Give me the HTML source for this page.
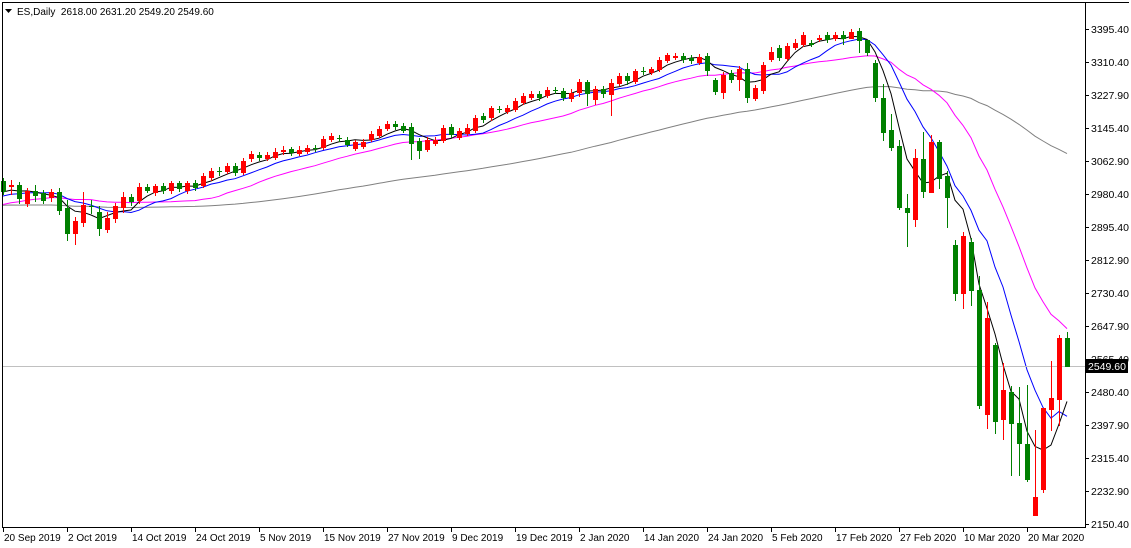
<!DOCTYPE html>
<html><head><meta charset="utf-8">
<style>
html,body{margin:0;padding:0;background:#fff;}
svg{display:block;font-family:"Liberation Sans",Tahoma,sans-serif;}
</style></head>
<body>
<svg id="c" width="1131" height="548" xmlns="http://www.w3.org/2000/svg" shape-rendering="crispEdges">
<rect x="0" y="0" width="1131" height="548" fill="#fff"/>
</svg>
<script>
(function(){
var svg=document.getElementById('c');
var NS='http://www.w3.org/2000/svg';
function el(t,a,txt){var e=document.createElementNS(NS,t);for(var k in a)e.setAttribute(k,a[k]);if(txt!==undefined)e.textContent=txt;svg.appendChild(e);return e;}
var B=[
[181,191],[186,185,180,194],[185,198,182,203],[203,191,188,206],[191,195,185,201],[193,200,190,203],[197,192,189,201],[192,210,188,214],
[208,233,200,240],[233,221,217,244],[222,205,192,226],[206,206,200,213],[212,228,206,235],[229,218,212,232],[218,206,203,222],[207,197,192,212],
[197,201,194,205],[200,187,183,203],[187,190,184,192],[192,186,184,195],[186,190,183,193],[190,183,181,193],[183,188,181,191],[190,183,181,193],
[183,187,180,190],[185,176,173,187],[177,171,168,180],[171,171,167,175],[171,166,163,173],[166,172,163,175],[172,161,158,174],[158,154,151,161],
[155,157,152,160],[158,155,152,160],[157,152,148,159],[151,150,146,154],[149,152,147,155],[153,150,146,155],[151,148,145,153],[148,148,145,151],
[147,139,136,149],[139,136,133,141],[138,138,135,141],[140,144,137,146],[148,142,140,150],[146,142,139,148],[139,134,131,141],[135,129,126,137],
[128,124,121,130],[124,126,121,129],[126,130,123,132],[127,143,123,159],[141,150,138,158],[149,140,137,151],[143,140,137,145],[140,128,125,142],
[127,134,124,137],[137,131,128,139],[133,128,124,135],[130,118,115,132],[116,119,113,122],[117,108,106,120],[109,109,106,112],[111,108,105,113],
[109,101,98,111],[102,96,93,104],[97,94,91,99],[94,97,91,100],[95,90,87,97],[90,90,87,93],[91,97,88,100],[98,93,89,101],
[92,82,79,96],[82,93,80,105],[99,89,86,104],[89,93,86,97],[94,83,79,115],[83,76,73,85],[76,80,73,84],[81,71,69,83],
[71,71,67,74],[72,69,67,74],[69,60,57,71],[60,55,53,62],[57,56,53,59],[56,59,53,62],[58,60,55,63],[62,57,54,64],
[56,70,53,75],[80,91,78,94],[92,75,72,98],[73,79,70,82],[79,69,66,90],[69,97,63,102],[98,88,85,100],[90,65,62,93],
[59,52,47,61],[48,57,45,60],[58,46,43,60],[47,43,39,49],[44,35,32,46],[43,44,40,46],[39,38,35,41],[35,39,32,42],
[38,35,32,40],[35,38,31,44],
[38,32,29,38],[31,40,28,52],[40,52,40,55],[63,97,60,101],[98,132,84,140],[130,147,114,150],[146,207,140,209],[208,212,194,246],
[219,158,149,226],[159,191,132,197],[192,142,135,192],[142,178,140,188],[176,197,171,227],[245,293,240,300],[293,236,232,308],[242,290,238,305],
[290,405,276,408],[414,318,302,428],[345,421,343,433],[419,390,363,439],[392,423,386,475],[423,443,387,475],[444,479,385,481],[515,497,430,515],
[489,408,408,492],[409,398,361,430],[399,338,335,425],[338,366,332,366]
];
var N=B.length, x0=1067-(N-1)*8;
var pre=[];
for(var i=-100;i<0;i++){var v;
 if(i<-40)v=196; else if(i<-25)v=196+(i+40)/15*35; else v=231-(i+25)/25*43;
 pre.push(v);}
var closes=pre.concat(B.map(function(b){return b[1];}));
function ma(p,col){var pts=[];for(var j=0;j<N;j++){var k=j+100,s=0;for(var m=0;m<p;m++)s+=closes[k-m];pts.push((x0+j*8)+','+(s/p).toFixed(1));}
 el('polyline',{points:pts.join(' '),fill:'none',stroke:col,'stroke-width':1,'shape-rendering':'auto'});}
ma(65,'#808080');ma(20,'#ff00ff');ma(10,'#0000ff');ma(5,'#000000');
el('line',{x1:3,y1:366.5,x2:1085,y2:366.5,stroke:'#c0c0c0','stroke-width':1});
for(var j=0;j<N;j++){var b=B[j],cx=x0+j*8,o=b[0],c=b[1];
 var tp=Math.min(o,c),bt=Math.max(o,c);
 var hi=b[2]!==undefined?b[2]:tp-3,lo=b[3]!==undefined?b[3]:bt+3;
 var col=(c<o)?'#ff0000':'#008000';
 var wt=Math.min(hi,tp),wb=Math.max(lo,bt);
 el('rect',{x:cx,y:wt,width:1,height:wb-wt+1,fill:col});
 el('rect',{x:cx-2,y:tp,width:5,height:Math.max(1,bt-tp+1),fill:col});
}
el('rect',{x:2,y:2,width:1,height:526,fill:'#000'});
el('rect',{x:2,y:2,width:1127,height:1,fill:'#000'});
el('rect',{x:1085,y:2,width:1,height:526,fill:'#000'});
el('rect',{x:2,y:527,width:1084,height:1,fill:'#000'});
var labs=['3395.40','3310.40','3227.90','3145.40','3062.90','2980.40','2895.40','2812.90','2730.40','2647.90','2565.40','2480.40','2397.90','2315.40','2232.90','2150.40'];
for(var i=0;i<labs.length;i++){var y=29+i*33;
 el('rect',{x:1086,y:y,width:3,height:1,fill:'#000'});
 el('text',{x:1091,y:y+4,'font-size':10.5,fill:'#000'},labs[i]);}
el('rect',{x:1086,y:359,width:42,height:14,fill:'#000'});
el('text',{x:1088,y:370,'font-size':10.5,fill:'#fff'},'2549.60');
var d=['20 Sep 2019','2 Oct 2019','14 Oct 2019','24 Oct 2019','5 Nov 2019','15 Nov 2019','27 Nov 2019','9 Dec 2019','19 Dec 2019','2 Jan 2020','14 Jan 2020','24 Jan 2020','5 Feb 2020','17 Feb 2020','27 Feb 2020','10 Mar 2020','20 Mar 2020'];
for(var i=0;i<d.length;i++){var lx=3+i*64;
 el('rect',{x:lx,y:528,width:1,height:4,fill:'#000'});
 el('text',{x:lx+1,y:541,'font-size':10,fill:'#000'},d[i]);}
el('path',{d:'M5 9 L12 9 L8.5 13 Z',fill:'#000','shape-rendering':'auto'});
var t=el('text',{x:17,y:15,'font-size':10,fill:'#000'},'ES,Daily  2618.00 2631.20 2549.20 2549.60');
t.setAttribute('xml:space','preserve');t.style.whiteSpace='pre';
})();
</script>
</body></html>
